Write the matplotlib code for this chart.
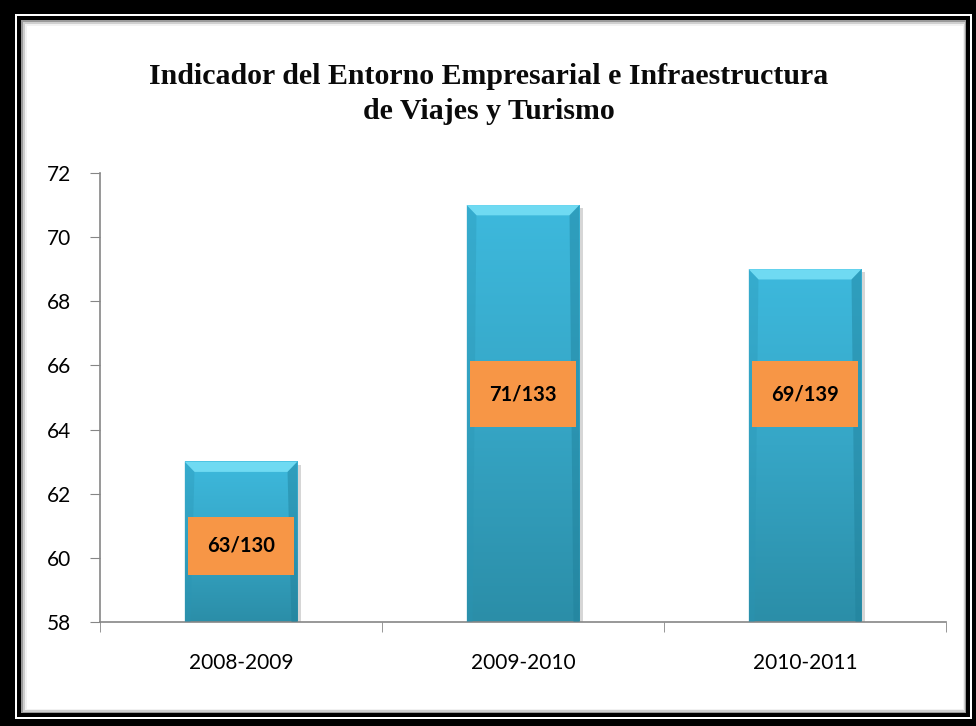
import matplotlib.pyplot as plt
import numpy as np
from matplotlib.colors import LinearSegmentedColormap
from matplotlib.patches import Rectangle, Polygon

# datos del gráfico
periods = ["2008-2009", "2009-2010", "2010-2011"]
scores = [63, 71, 69]
rank_labels = ["63/130", "71/133", "69/139"]

# posición (centro, alto) de las cajas naranjas - sólo maquetación
box_center = [60.37, 65.1, 65.1]
box_height = [1.8, 2.05, 2.05]

W, H = 976, 726
fig = plt.figure(figsize=(W / 100, H / 100), dpi=100)
fig.patch.set_facecolor("black")


def px_rect(x0, y0, x1, y1, **kw):
    # rectángulo en píxeles (origen arriba a la izquierda)
    r = Rectangle((x0 / W, 1 - y1 / H), (x1 - x0) / W, (y1 - y0) / H,
                  transform=fig.transFigure, zorder=-5, **kw)
    fig.add_artist(r)


# marco doble
px_rect(15, 14, 972, 719, facecolor="white", edgecolor="none")
px_rect(17, 16, 970, 717, facecolor="black", edgecolor="none")
px_rect(21, 20, 966, 713, facecolor="#9a9a9a", edgecolor="none")
px_rect(23, 22, 965, 712, facecolor="#cfcfcf", edgecolor="none")
px_rect(25, 24, 964, 710, facecolor="#f2f2f2", edgecolor="none")
px_rect(27, 26, 963, 709, facecolor="white", edgecolor="none")

fig.text(489 / W, 1 - 94 / H,
         "Indicador del Entorno Empresarial e Infraestructura\nde Viajes y Turismo",
         ha="center", va="center", fontsize=21.5, fontweight="bold",
         family="Liberation Serif", color="#0a0a0a", linespacing=1.35)

ax = fig.add_axes([100 / W, 1 - 622 / H, 846 / W, (622 - 173) / H])
ax.set_facecolor("none")
ax.set_zorder(2)

cmap = LinearSegmentedColormap.from_list("bar", ["#2b8ea8", "#36a6c6", "#3db9dd"])
grad = np.linspace(0, 1, 256).reshape(-1, 1)
bw = 0.4
ymin = 58
x = np.arange(len(periods))
for xi, v in zip(x, scores):
    x0, x1 = xi - bw / 2, xi + bw / 2
    # sombra
    ax.add_patch(Rectangle((x1, ymin), 0.012, v - ymin - 0.1, facecolor="#bbbbbb",
                           edgecolor="none", alpha=0.6, zorder=1))
    ax.imshow(grad, extent=[x0, x1, ymin, v], origin="lower", aspect="auto",
              cmap=cmap, zorder=2)
    # biseles
    bx, by = 0.035, 0.32
    ax.add_patch(Polygon([(x0, v), (x1, v), (x1 - bx, v - by), (x0 + bx, v - by)],
                         closed=True, facecolor="#6fdaf2", edgecolor="none", zorder=3))
    ax.add_patch(Polygon([(x1, v), (x1, ymin), (x1 - bx * 0.6, ymin), (x1 - bx, v - by)],
                         closed=True, facecolor="#1f7f99", edgecolor="none",
                         alpha=0.45, zorder=3))
    ax.add_patch(Polygon([(x0, v), (x0, ymin), (x0 + bx * 0.6, ymin), (x0 + bx, v - by)],
                         closed=True, facecolor="#2a95b4", edgecolor="none",
                         alpha=0.35, zorder=3))

for xi, lab, cy, bh in zip(x, rank_labels, box_center, box_height):
    bbw = 0.376
    ax.add_patch(Rectangle((xi - bbw / 2, cy - bh / 2), bbw, bh,
                           facecolor="#f79646", edgecolor="none", zorder=4))
    ax.text(xi, cy, lab, ha="center", va="center", fontsize=14.5, fontweight="bold",
            family="Lato", color="#000000", zorder=5)

ax.set_xlim(-0.5, len(periods) - 0.5)
ax.set_ylim(58, 72)
ax.set_yticks(np.arange(58, 73, 2))
ax.set_xticks(x)
ax.set_xticklabels(periods)
ax.set_xticks(np.arange(-0.5, len(periods)), minor=True)
ax.tick_params(axis="x", which="major", length=0, pad=22, labelsize=15)
ax.tick_params(axis="x", which="minor", length=7, color="#868686", direction="out")
ax.tick_params(axis="y", length=7, color="#868686", pad=14, labelsize=15)
for lbl in ax.get_xticklabels() + ax.get_yticklabels():
    lbl.set_family("Lato")
    lbl.set_color("#000000")
for s in ["top", "right"]:
    ax.spines[s].set_visible(False)
for s in ["left", "bottom"]:
    ax.spines[s].set_color("#868686")
    ax.spines[s].set_linewidth(1.2)

plt.savefig("out.png", dpi=100, facecolor=fig.get_facecolor())
